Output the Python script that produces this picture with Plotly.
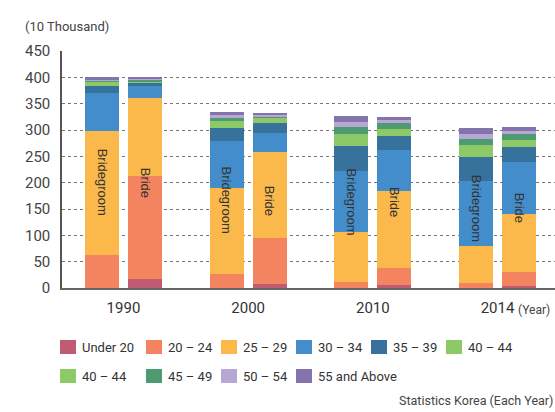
import plotly.graph_objects as go

# Marriages by age group of bridegroom and bride (unit: 10 thousand)
YEARS = ["1990", "2000", "2010", "2014"]
AGE_GROUPS = ["Under 20", "20 – 24", "25 – 29", "30 – 34", "35 – 39",
              "40 – 44", "45 – 49", "50 – 54", "55 and Above"]
COLORS = ["#bf5b72", "#f3845f", "#fbb84b", "#438dca", "#37729c",
          "#8dc966", "#4f9b71", "#b8a7d4", "#8374ae"]

groom_under_20 = [0.5, 0.5, 0.5, 0.5]
groom_20_24 = [62, 26, 10.5, 8.5]
groom_25_29 = [235, 163, 95, 70]
groom_30_34 = [73, 89, 115.5, 125]
groom_35_39 = [13, 25, 49, 45.5]
groom_40_44 = [8, 13, 21, 22.5]
groom_45_49 = [3, 6.5, 13.5, 11.5]
groom_50_54 = [2, 5, 11, 9.5]
groom_55_up = [3.5, 5.5, 11.5, 11.5]

bride_under_20 = [17, 7.5, 5.5, 4]
bride_20_24 = [195, 87, 32, 26.5]
bride_25_29 = [148, 163, 146, 110]
bride_30_34 = [24.5, 36, 79, 98.5]
bride_35_39 = [6.5, 19, 27, 28.5]
bride_40_44 = [2, 9.5, 13, 13]
bride_45_49 = [3, 4, 11.5, 11.5]
bride_50_54 = [2, 3.5, 5.5, 5.5]
bride_55_up = [2, 3.5, 6, 7.5]

# Legend entries as printed (the 40 – 44 entry appears twice)
LEGEND_ROW_1 = ["Under 20", "20 – 24", "25 – 29", "30 – 34", "35 – 39", "40 – 44"]
LEGEND_ROW_2 = ["40 – 44", "45 – 49", "50 – 54", "55 and Above"]

SOURCE = "Statistics Korea (Each Year)"
UNIT = "(10 Thousand)"

GROOM = [groom_under_20, groom_20_24, groom_25_29, groom_30_34, groom_35_39,
         groom_40_44, groom_45_49, groom_50_54, groom_55_up]
BRIDE = [bride_under_20, bride_20_24, bride_25_29, bride_30_34, bride_35_39,
         bride_40_44, bride_45_49, bride_50_54, bride_55_up]

# ---- geometry (pixels of a 555 x 412 page) ----
W, H = 555, 412
ML, MR, MT, MB = 62, 0, 51, 124
PW, PH = W - ML - MR, H - MT - MB
SANS = "Roboto, Liberation Sans, Arial, sans-serif"
REGULAR = "Liberation Sans, Arial, sans-serif"


def px_x(p):
    return (p - ML) / PW


def px_y(p):
    return (H - MB - p) / PH


OFFSET = 0.1724   # half distance between paired bars
BAR_W = 0.2727
idx = list(range(len(YEARS)))
groom_x = [i - OFFSET for i in idx]
bride_x = [i + OFFSET for i in idx]

fig = go.Figure()
for name, color, g, b in zip(AGE_GROUPS, COLORS, GROOM, BRIDE):
    fig.add_trace(go.Bar(
        x=groom_x + bride_x,
        y=g + b,
        name=name,
        width=BAR_W,
        marker=dict(color=color, line=dict(width=0)),
        showlegend=False,
        hoverinfo="skip",
    ))

# rotated labels in the middle of each stacked bar
groom_tot = [sum(col) for col in zip(*GROOM)]
bride_tot = [sum(col) for col in zip(*BRIDE)]
annotations = []
for xs, tots, label in ((groom_x, groom_tot, "Bridegroom"), (bride_x, bride_tot, "Bride")):
    for x, t in zip(xs, tots):
        annotations.append(dict(
            x=x, y=t / 2, xref="x", yref="y", text=label, textangle=90,
            showarrow=False, font=dict(family=REGULAR, size=13, color="#333333"),
        ))

# unit label, year unit, source
annotations.append(dict(x=px_x(23), y=px_y(27), xref="paper", yref="paper",
                        text=UNIT, showarrow=False, xanchor="left", yanchor="middle",
                        font=dict(family=SANS, size=13, color="#444444")))
annotations.append(dict(x=px_x(516), y=px_y(310), xref="paper", yref="paper",
                        text="(Year)", showarrow=False, xanchor="left", yanchor="middle",
                        font=dict(family=SANS, size=12, color="#444444")))
annotations.append(dict(x=px_x(397), y=px_y(400), xref="paper", yref="paper",
                        text=SOURCE, showarrow=False, xanchor="left", yanchor="middle",
                        font=dict(family=SANS, size=12.5, color="#444444")))

# hand-laid legend
shapes = []
color_of = dict(zip(AGE_GROUPS, COLORS))
row_x = [60, 146, 221, 296, 371, 446]
for labels, cy in ((LEGEND_ROW_1, 347), (LEGEND_ROW_2, 376)):
    for lab, sx in zip(labels, row_x):
        shapes.append(dict(type="rect", xref="paper", yref="paper",
                           x0=px_x(sx), x1=px_x(sx + 16),
                           y0=px_y(cy + 7), y1=px_y(cy - 7),
                           fillcolor=color_of[lab], line=dict(width=0)))
        annotations.append(dict(x=px_x(sx + 20), y=px_y(cy), xref="paper", yref="paper",
                                text=lab, showarrow=False, xanchor="left", yanchor="middle",
                                font=dict(family=SANS, size=13, color="#333333")))

fig.update_layout(
    width=W, height=H,
    margin=dict(l=ML, r=MR, t=MT, b=MB),
    paper_bgcolor="white", plot_bgcolor="white",
    barmode="stack",
    showlegend=False,
    annotations=annotations,
    shapes=shapes,
    xaxis=dict(
        range=[-0.493, 3.461],
        tickvals=idx, ticktext=YEARS,
        ticks="outside", ticklen=5, tickcolor="rgba(0,0,0,0)",
        tickfont=dict(family=SANS, size=15, color="#333333"),
        showgrid=False, zeroline=False,
        showline=True, linecolor="#666666", linewidth=2,
        fixedrange=True,
    ),
    yaxis=dict(
        range=[0, 450], dtick=50, tick0=0,
        ticks="outside", ticklen=7, tickcolor="rgba(0,0,0,0)",
        tickfont=dict(family=SANS, size=15, color="#444444"),
        showgrid=True, gridcolor="#777777", griddash="dot", gridwidth=1,
        zeroline=False,
        showline=True, linecolor="#555555", linewidth=1.5,
        fixedrange=True,
    ),
)

fig.write_html("out.html")
